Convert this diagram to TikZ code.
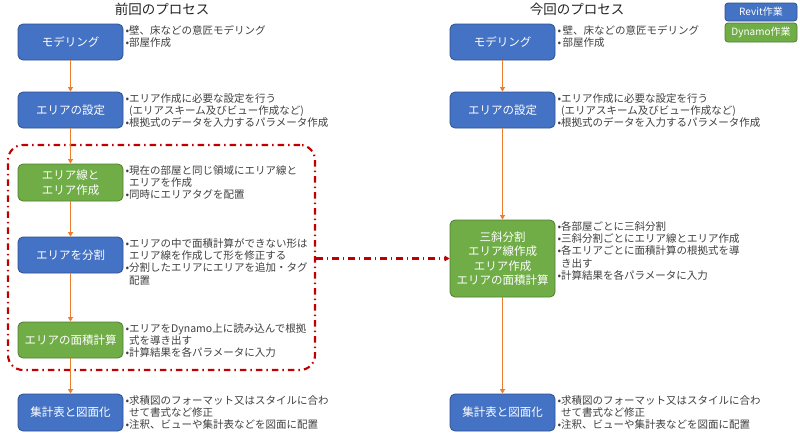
\documentclass[tikz,border=0pt]{standalone}
\usepackage{fontspec}
\setmainfont{Noto Sans CJK JP}
\usetikzlibrary{arrows.meta}
\definecolor{rblue}{HTML}{4472C4}
\definecolor{rblueb}{HTML}{2F528F}
\definecolor{dgreen}{HTML}{70AD47}
\definecolor{dgreenb}{HTML}{507E32}
\definecolor{flow}{HTML}{ED7D31}
\definecolor{grpred}{HTML}{C00000}
\definecolor{txt}{HTML}{404040}
\definecolor{ttl}{HTML}{262626}
\newcommand{\bl}{•}
\newcommand{\bi}{\hphantom{•}}
\tikzset{
  proc/.style={rectangle, rounded corners=5pt, minimum width=105pt, minimum height=36pt,
    inner sep=0pt, text=white, align=center, font=\fontsize{11.5}{14.5}\selectfont, line width=0.8pt},
  revit/.style={proc, fill=rblue, draw=rblueb},
  dyn/.style={proc, fill=dgreen, draw=dgreenb},
  desc/.style={anchor=north west, inner sep=0pt, align=left, text=txt,
    font=\fontsize{10.5}{12.3}\selectfont},
  ttlnode/.style={inner sep=0pt, text=ttl, font=\fontsize{13.5}{15}\selectfont},
  flowarrow/.style={draw=flow, line width=1.2pt, -{Triangle[length=4.5pt,width=5pt]}},
  grpline/.style={draw=grpred, line width=2.1pt, dash pattern=on 6.5pt off 4pt on 1.5pt off 4pt},
  legend/.style={rectangle, rounded corners=3pt, minimum width=72pt, inner sep=0pt,
    text=white, line width=0.8pt, font=\fontsize{10}{12}\selectfont}
}
\begin{document}
\begin{tikzpicture}[x=1pt,y=1pt]
\useasboundingbox (0,0) rectangle (800,-437);
\fill[white] (0,0) rectangle (800,-437);

% titles
\node[ttlnode] (t1) at (162,-9) {前回のプロセス};
\node[ttlnode] (t2) at (577,-9) {今回のプロセス};

% legend
\node[legend, fill=rblue, draw=rblueb, minimum height=18pt] (lg1) at (761,-12) {Revit作業};
\node[legend, fill=dgreen, draw=dgreenb, minimum height=19pt] (lg2) at (761,-32.5) {Dynamo作業};

% group box
\node[grpline, rectangle, rounded corners=15pt, minimum width=307pt, minimum height=225pt, inner sep=0pt] (grp) at (161.5,-257.5) {};

% left column
\node[revit] (L1) at (70.5,-42) {モデリング};
\node[revit] (L2) at (70.5,-110) {エリアの設定};
\node[dyn, minimum height=37pt] (L3) at (70.5,-182.5) {エリア線と\\エリア作成};
\node[revit] (L4) at (70.5,-255) {エリアを分割};
\node[dyn] (L5) at (70.5,-340) {エリアの面積計算};
\node[revit, minimum height=37pt] (L6) at (70.5,-412.5) {集計表と図面化};

% right column
\node[revit] (R1) at (502.5,-42) {モデリング};
\node[revit] (R2) at (502.5,-110) {エリアの設定};
\node[dyn, minimum height=77pt] (R3) at (502.5,-258.5) {三斜分割\\エリア線作成\\エリア作成\\エリアの面積計算};
\node[revit, minimum height=37pt] (R4) at (502.5,-412.5) {集計表と図面化};

% descriptions
\node[desc] (dL1) at ([xshift=2pt,yshift=-1.5pt]L1.north east) {\bl 壁、床などの意匠モデリング\\\bl 部屋作成};
\node[desc] (dL2) at ([xshift=2pt,yshift=-1.5pt]L2.north east) {\bl エリア作成に必要な設定を行う\\\bi(エリアスキーム及びビュー作成など)\\\bl 根拠式のデータを入力するパラメータ作成};
\node[desc] (dL3) at ([xshift=2pt,yshift=-1.5pt]L3.north east) {\bl 現在の部屋と同じ領域にエリア線と\\\bi エリアを作成\\\bl 同時にエリアタグを配置};
\node[desc] (dL4) at ([xshift=2pt,yshift=-1.5pt]L4.north east) {\bl エリアの中で面積計算ができない形は\\\bi エリア線を作成して形を修正する\\\bl 分割したエリアにエリアを追加・タグ\\\bi 配置};
\node[desc] (dL5) at ([xshift=2pt,yshift=-1.5pt]L5.north east) {\bl エリアをDynamo上に読み込んで根拠\\\bi 式を導き出す\\\bl 計算結果を各パラメータに入力};
\node[desc] (dL6) at ([xshift=2pt,yshift=-1.5pt]L6.north east) {\bl 求積図のフォーマット又はスタイルに合わ\\\bi せて書式など修正\\\bl 注釈、ビューや集計表などを図面に配置};

\node[desc] (dR1) at ([xshift=2pt,yshift=-1.5pt]R1.north east) {\bl\kern1.5pt 壁、床などの意匠モデリング\\\bl\kern1.5pt 部屋作成};
\node[desc] (dR2) at ([xshift=2pt,yshift=-1.5pt]R2.north east) {\bl エリア作成に必要な設定を行う\\\bi(エリアスキーム及びビュー作成など)\\\bl 根拠式のデータを入力するパラメータ作成};
\node[desc] (dR3) at ([xshift=2pt,yshift=-1.5pt]R3.north east) {\bl 各部屋ごとに三斜分割\\\bl 三斜分割ごとにエリア線とエリア作成\\\bl 各エリアごとに面積計算の根拠式を導\\\bi き出す\\\bl 計算結果を各パラメータに入力};
\node[desc] (dR4) at ([xshift=2pt,yshift=-1.5pt]R4.north east) {\bl 求積図のフォーマット又はスタイルに合わ\\\bi せて書式など修正\\\bl 注釈、ビューや集計表などを図面に配置};

% flow arrows
\draw[flowarrow] (L1) -- (L2);
\draw[flowarrow] (L2) -- (L3);
\draw[flowarrow] (L3) -- (L4);
\draw[flowarrow] (L4) -- (L5);
\draw[flowarrow] (L5) -- (L6);
\draw[flowarrow] (R1) -- (R2);
\draw[flowarrow] (R2) -- (R3);
\draw[flowarrow] (R3) -- (R4);

% group arrow
\draw[grpline, -{Triangle[length=5pt,width=5.5pt]}] (grp.east |- R3.west) -- (R3.west);
\end{tikzpicture}
\end{document}
